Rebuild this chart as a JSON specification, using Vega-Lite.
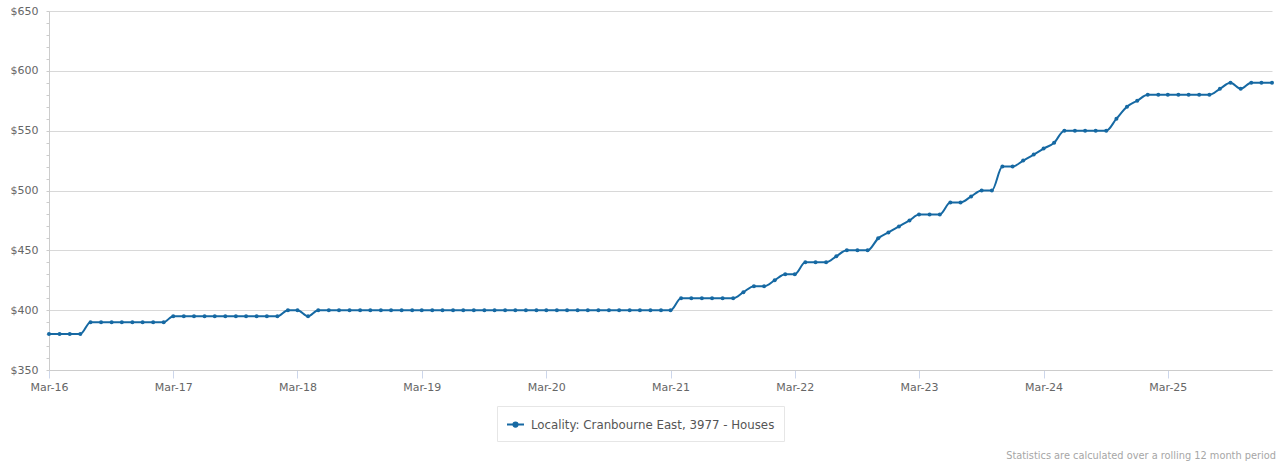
{
  "$schema": "https://vega.github.io/schema/vega-lite/v6.json",
  "width": 1223,
  "height": 359,
  "autosize": {"type": "none"},
  "padding": {"left": 49, "top": 11, "right": 7, "bottom": 94},
  "background": "white",
  "config": {"font": "DejaVu Sans", "view": {"stroke": null}},
  "title": {"text": "Statistics are calculated over a rolling 12 month period", "orient": "bottom", "anchor": "end", "fontSize": 9.8, "fontWeight": "normal", "color": "#a6a6a6", "offset": 9},
  "data": {"values": [
    {"date": "2016-03-01", "rent": 380}, {"date": "2016-04-01", "rent": 380}, {"date": "2016-05-01", "rent": 380}, {"date": "2016-06-01", "rent": 380},
    {"date": "2016-07-01", "rent": 390}, {"date": "2016-08-01", "rent": 390}, {"date": "2016-09-01", "rent": 390}, {"date": "2016-10-01", "rent": 390},
    {"date": "2016-11-01", "rent": 390}, {"date": "2016-12-01", "rent": 390}, {"date": "2017-01-01", "rent": 390}, {"date": "2017-02-01", "rent": 390},
    {"date": "2017-03-01", "rent": 395}, {"date": "2017-04-01", "rent": 395}, {"date": "2017-05-01", "rent": 395}, {"date": "2017-06-01", "rent": 395},
    {"date": "2017-07-01", "rent": 395}, {"date": "2017-08-01", "rent": 395}, {"date": "2017-09-01", "rent": 395}, {"date": "2017-10-01", "rent": 395},
    {"date": "2017-11-01", "rent": 395}, {"date": "2017-12-01", "rent": 395}, {"date": "2018-01-01", "rent": 395}, {"date": "2018-02-01", "rent": 400},
    {"date": "2018-03-01", "rent": 400}, {"date": "2018-04-01", "rent": 395}, {"date": "2018-05-01", "rent": 400}, {"date": "2018-06-01", "rent": 400},
    {"date": "2018-07-01", "rent": 400}, {"date": "2018-08-01", "rent": 400}, {"date": "2018-09-01", "rent": 400}, {"date": "2018-10-01", "rent": 400},
    {"date": "2018-11-01", "rent": 400}, {"date": "2018-12-01", "rent": 400}, {"date": "2019-01-01", "rent": 400}, {"date": "2019-02-01", "rent": 400},
    {"date": "2019-03-01", "rent": 400}, {"date": "2019-04-01", "rent": 400}, {"date": "2019-05-01", "rent": 400}, {"date": "2019-06-01", "rent": 400},
    {"date": "2019-07-01", "rent": 400}, {"date": "2019-08-01", "rent": 400}, {"date": "2019-09-01", "rent": 400}, {"date": "2019-10-01", "rent": 400},
    {"date": "2019-11-01", "rent": 400}, {"date": "2019-12-01", "rent": 400}, {"date": "2020-01-01", "rent": 400}, {"date": "2020-02-01", "rent": 400},
    {"date": "2020-03-01", "rent": 400}, {"date": "2020-04-01", "rent": 400}, {"date": "2020-05-01", "rent": 400}, {"date": "2020-06-01", "rent": 400},
    {"date": "2020-07-01", "rent": 400}, {"date": "2020-08-01", "rent": 400}, {"date": "2020-09-01", "rent": 400}, {"date": "2020-10-01", "rent": 400},
    {"date": "2020-11-01", "rent": 400}, {"date": "2020-12-01", "rent": 400}, {"date": "2021-01-01", "rent": 400}, {"date": "2021-02-01", "rent": 400},
    {"date": "2021-03-01", "rent": 400}, {"date": "2021-04-01", "rent": 410}, {"date": "2021-05-01", "rent": 410}, {"date": "2021-06-01", "rent": 410},
    {"date": "2021-07-01", "rent": 410}, {"date": "2021-08-01", "rent": 410}, {"date": "2021-09-01", "rent": 410}, {"date": "2021-10-01", "rent": 415},
    {"date": "2021-11-01", "rent": 420}, {"date": "2021-12-01", "rent": 420}, {"date": "2022-01-01", "rent": 425}, {"date": "2022-02-01", "rent": 430},
    {"date": "2022-03-01", "rent": 430}, {"date": "2022-04-01", "rent": 440}, {"date": "2022-05-01", "rent": 440}, {"date": "2022-06-01", "rent": 440},
    {"date": "2022-07-01", "rent": 445}, {"date": "2022-08-01", "rent": 450}, {"date": "2022-09-01", "rent": 450}, {"date": "2022-10-01", "rent": 450},
    {"date": "2022-11-01", "rent": 460}, {"date": "2022-12-01", "rent": 465}, {"date": "2023-01-01", "rent": 470}, {"date": "2023-02-01", "rent": 475},
    {"date": "2023-03-01", "rent": 480}, {"date": "2023-04-01", "rent": 480}, {"date": "2023-05-01", "rent": 480}, {"date": "2023-06-01", "rent": 490},
    {"date": "2023-07-01", "rent": 490}, {"date": "2023-08-01", "rent": 495}, {"date": "2023-09-01", "rent": 500}, {"date": "2023-10-01", "rent": 500},
    {"date": "2023-11-01", "rent": 520}, {"date": "2023-12-01", "rent": 520}, {"date": "2024-01-01", "rent": 525}, {"date": "2024-02-01", "rent": 530},
    {"date": "2024-03-01", "rent": 535}, {"date": "2024-04-01", "rent": 540}, {"date": "2024-05-01", "rent": 550}, {"date": "2024-06-01", "rent": 550},
    {"date": "2024-07-01", "rent": 550}, {"date": "2024-08-01", "rent": 550}, {"date": "2024-09-01", "rent": 550}, {"date": "2024-10-01", "rent": 560},
    {"date": "2024-11-01", "rent": 570}, {"date": "2024-12-01", "rent": 575}, {"date": "2025-01-01", "rent": 580}, {"date": "2025-02-01", "rent": 580},
    {"date": "2025-03-01", "rent": 580}, {"date": "2025-04-01", "rent": 580}, {"date": "2025-05-01", "rent": 580}, {"date": "2025-06-01", "rent": 580},
    {"date": "2025-07-01", "rent": 580}, {"date": "2025-08-01", "rent": 585}, {"date": "2025-09-01", "rent": 590}, {"date": "2025-10-01", "rent": 585},
    {"date": "2025-11-01", "rent": 590}, {"date": "2025-12-01", "rent": 590}, {"date": "2026-01-01", "rent": 590}
  ]},
  "transform": [{"calculate": "'Locality: Cranbourne East, 3977 - Houses'", "as": "series"}],
  "encoding": {
    "x": {
      "field": "date", "type": "temporal",
      "scale": {"type": "utc", "domain": [{"year": 2016, "month": 3, "date": 1, "utc": true}, {"year": 2026, "month": 1, "date": 1, "utc": true}]},
      "axis": {
        "title": null,
        "values": [
          {"year": 2016, "month": 3, "date": 1, "utc": true}, {"year": 2017, "month": 3, "date": 1, "utc": true},
          {"year": 2018, "month": 3, "date": 1, "utc": true}, {"year": 2019, "month": 3, "date": 1, "utc": true},
          {"year": 2020, "month": 3, "date": 1, "utc": true}, {"year": 2021, "month": 3, "date": 1, "utc": true},
          {"year": 2022, "month": 3, "date": 1, "utc": true}, {"year": 2023, "month": 3, "date": 1, "utc": true},
          {"year": 2024, "month": 3, "date": 1, "utc": true}, {"year": 2025, "month": 3, "date": 1, "utc": true}
        ],
        "labelExpr": "utcFormat(datum.value, '%b-%y')",
        "grid": false, "domainColor": "#cccccc", "tickColor": "#ccd6eb", "tickSize": 8,
        "labelColor": "#666666", "labelFontSize": 11, "labelPadding": 3, "labelOverlap": false, "labelFlush": false
      }
    },
    "y": {
      "field": "rent", "type": "quantitative",
      "scale": {"domain": [350, 650], "nice": false, "zero": false},
      "axis": {
        "title": null,
        "values": [350, 360, 370, 380, 390, 400, 410, 420, 430, 440, 450, 460, 470, 480, 490, 500, 510, 520, 530, 540, 550, 560, 570, 580, 590, 600, 610, 620, 630, 640, 650],
        "labelExpr": "datum.value % 50 === 0 ? '$' + datum.value : ''",
        "labelOverlap": false, "labelFlush": false,
        "grid": true, "gridColor": "#d8d8d8",
        "gridOpacity": {"condition": {"test": "datum.value % 50 === 0", "value": 1}, "value": 0},
        "domainColor": "#cccccc", "tickColor": "#cccccc", "tickSize": 3,
        "labelColor": "#666666", "labelFontSize": 11, "labelPadding": 8
      }
    },
    "color": {
      "field": "series", "type": "nominal",
      "scale": {"range": ["#1669a3"]},
      "legend": {
        "orient": "none", "legendX": 448, "legendY": 395, "title": null,
        "strokeColor": "#e6e6e6", "fillColor": "white", "padding": 9,
        "labelFontSize": 11.8, "labelColor": "#555555", "labelOffset": 6, "labelLimit": 0,
        "symbolType": "M-1,0L1,0M-0.25,0A0.25,0.25,0,1,0,0.25,0A0.25,0.25,0,1,0,-0.25,0",
        "symbolSize": 289, "symbolStrokeWidth": 2, "symbolFillColor": "#1669a3", "symbolStrokeColor": "#1669a3"
      }
    }
  },
  "layer": [
    {"mark": {"type": "line", "interpolate": "monotone", "strokeWidth": 2}},
    {"mark": {"type": "point", "filled": true, "size": 16, "opacity": 1}}
  ]
}
